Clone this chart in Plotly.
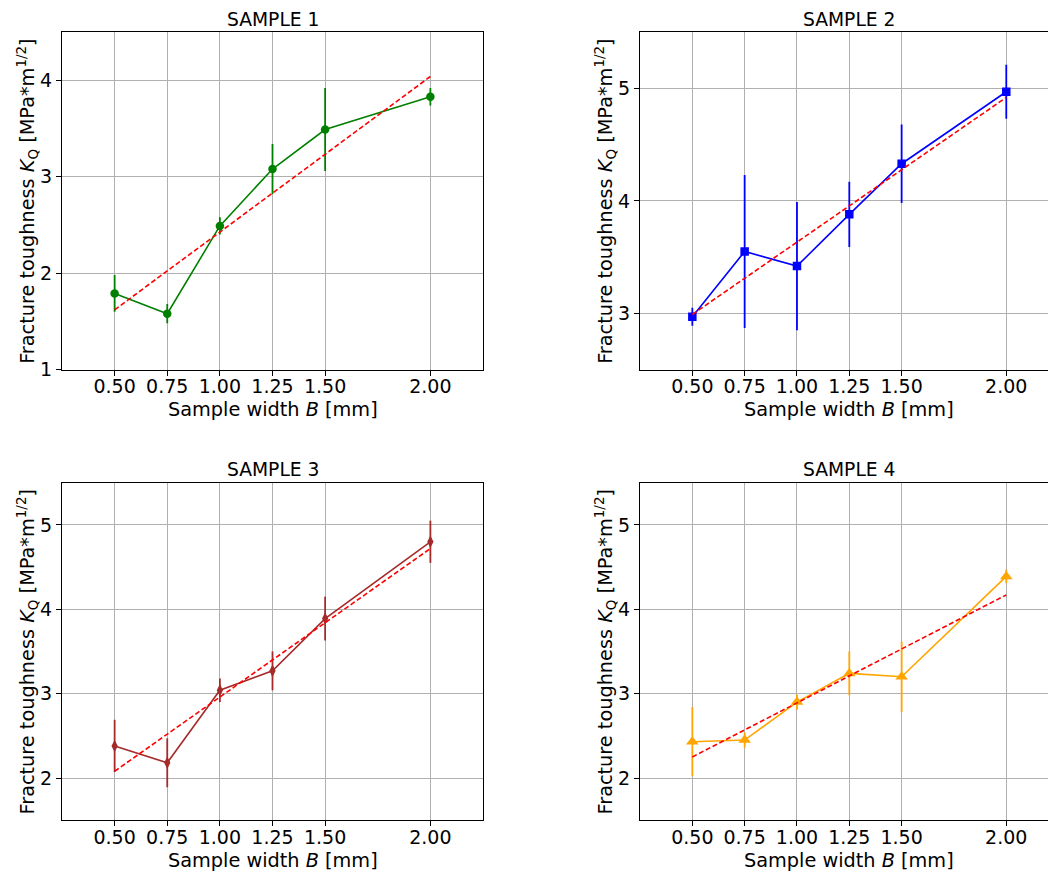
import plotly.graph_objects as go

# ---------------- data ----------------
widths = [0.50, 0.75, 1.00, 1.25, 1.50, 2.00]
tick_labels = ["0.50", "0.75", "1.00", "1.25", "1.50", "2.00"]

titles = ["SAMPLE 1", "SAMPLE 2", "SAMPLE 3", "SAMPLE 4"]

k1 = [1.79, 1.58, 2.49, 3.08, 3.49, 3.83]
e1 = [0.19, 0.10, 0.09, 0.26, 0.43, 0.09]
k2 = [2.97, 3.55, 3.42, 3.88, 4.33, 4.97]
e2 = [0.08, 0.68, 0.57, 0.29, 0.35, 0.24]
k3 = [2.38, 2.18, 3.04, 3.27, 3.89, 4.80]
e3 = [0.31, 0.29, 0.14, 0.23, 0.26, 0.25]
k4 = [2.43, 2.45, 2.90, 3.24, 3.20, 4.39]
e4 = [0.41, 0.09, 0.09, 0.26, 0.42, 0.08]

fit_x = [0.50, 2.00]
fit1 = [1.62, 4.04]
fit2 = [2.99, 4.92]
fit3 = [2.08, 4.72]
fit4 = [2.25, 4.17]

y_ticks = [[1, 2, 3, 4], [3, 4, 5], [2, 3, 4, 5], [2, 3, 4, 5]]
y_ranges = [[1, 4.5], [2.5, 5.5], [1.5, 5.5], [1.5, 5.5]]

series = [k1, k2, k3, k4]
errors = [e1, e2, e3, e4]
fits = [fit1, fit2, fit3, fit4]
colors = ["#008000", "#0000ff", "#a52a2a", "#ffa500"]
symbols = ["circle", "square", "diamond-tall", "triangle-up"]
msizes = [8.5, 8.5, 9, 11]

# ---------------- layout geometry ----------------
# page body has an 8px margin; the captured page is also squeezed slightly vertically
OFF = 8
SY = 0.986
W = 1056 - 2 * OFF
H = int(round(871 / SY)) - 2 * OFF
FONT = "DejaVu Sans"


def fx(px):
    return px - OFF


def fy(py):
    return py / SY - OFF


# plot boxes in screen px: (left, right, top, bottom); right-hand plots run past the edge
boxes = [(62, 483, 32, 369), (640, 1058, 32, 369), (62, 483, 482, 819), (640, 1058, 482, 819)]
PX_PER_UNIT = [210.5, 209.3, 210.5, 209.3]

fig = go.Figure()
annotations = []
for i in range(4):
    n = "" if i == 0 else str(i + 1)
    xa, ya = "x" + n, "y" + n
    c = colors[i]
    fig.add_trace(go.Scatter(
        x=widths, y=series[i], xaxis=xa, yaxis=ya, mode="lines+markers",
        line=dict(color=c, width=1.6),
        marker=dict(symbol=symbols[i], size=msizes[i], color=c, line=dict(width=0)),
        error_y=dict(type="data", array=errors[i], visible=True, color=c, thickness=1.8, width=0),
        showlegend=False, hoverinfo="skip"))
    fig.add_trace(go.Scatter(
        x=fit_x, y=fits[i], xaxis=xa, yaxis=ya, mode="lines",
        line=dict(color="#ff0000", width=1.6, dash="5px,2.6px"),
        showlegend=False, hoverinfo="skip"))

    L, R, T, B = boxes[i]
    l, r, t, b = fx(L), fx(R), fy(T), fy(B)
    cut = r > W
    r_vis = min(r, W)
    x_hi = 0.25 + (r_vis - l) / PX_PER_UNIT[i]
    fig.layout["xaxis" + n] = dict(
        domain=[l / W, r_vis / W], range=[0.25, x_hi], anchor=ya,
        tickvals=widths, ticktext=tick_labels,
        showgrid=True, gridcolor="#b0b0b0", gridwidth=1,
        showline=True, linecolor="black", linewidth=1, mirror=True,
        ticks="outside", ticklen=5, tickwidth=1, tickcolor="black", ticklabelstandoff=-5,
        tickfont=dict(family=FONT, size=19, color="black"), zeroline=False)
    fig.layout["yaxis" + n] = dict(
        domain=[1 - b / H, 1 - t / H], range=y_ranges[i], anchor=xa,
        tickvals=y_ticks[i],
        showgrid=True, gridcolor="#b0b0b0", gridwidth=1,
        showline=True, linecolor="black", linewidth=1, mirror=(not cut),
        ticks="outside", ticklen=5, tickwidth=1, tickcolor="black",
        tickfont=dict(family=FONT, size=19, color="black"), zeroline=False)

    cx = (l + r) / 2
    annotations.append(dict(text=titles[i], x=cx / W, y=1 - fy(T - 13) / H, xref="paper", yref="paper",
                            xanchor="center", yanchor="middle", showarrow=False,
                            font=dict(family=FONT, size=18.7, color="black")))
    annotations.append(dict(text="Sample width <i>B</i> [mm]", x=cx / W, y=1 - fy(B + 40) / H,
                            xref="paper", yref="paper", xanchor="center", yanchor="middle",
                            showarrow=False, font=dict(family=FONT, size=19.3, color="black")))
    annotations.append(dict(text="Fracture toughness <i>K</i><sub>Q</sub> [MPa*m<sup>1/2</sup>]",
                            x=fx(L - 35) / W, y=1 - fy((T + B) / 2) / H, xref="paper", yref="paper",
                            xanchor="center", yanchor="middle", textangle=-90, showarrow=False,
                            font=dict(family=FONT, size=19.3, color="black")))

fig.update_layout(
    width=W, height=H, margin=dict(l=0, r=0, t=0, b=0),
    paper_bgcolor="white", plot_bgcolor="white",
    annotations=annotations, font=dict(family=FONT, color="black"))

fig.write_html("out.html")
